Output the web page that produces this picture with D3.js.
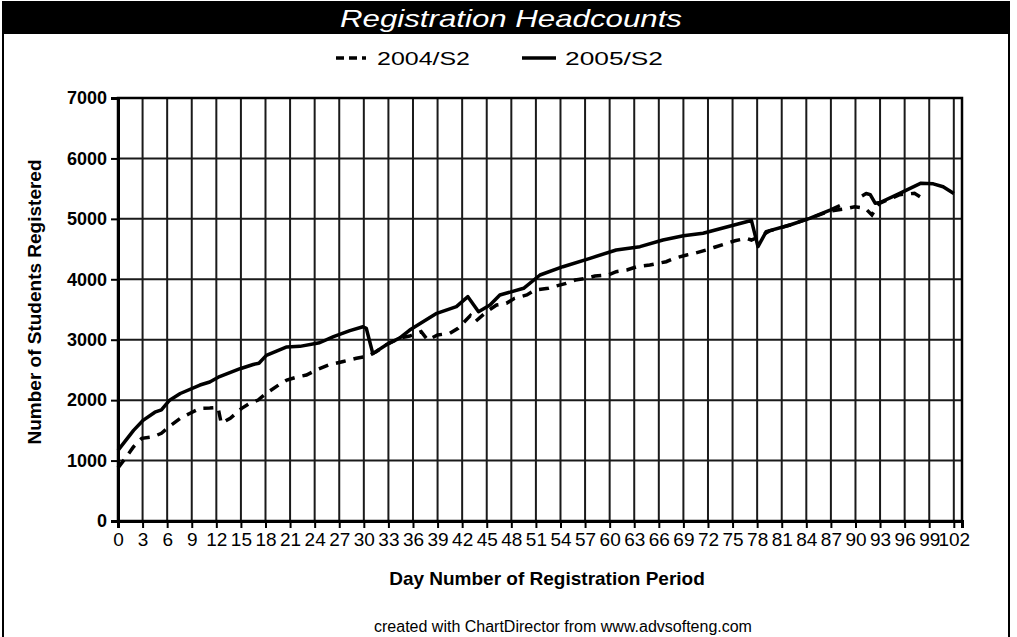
<!DOCTYPE html>
<html>
<head>
<meta charset="utf-8">
<script src="https://cdn.jsdelivr.net/npm/d3@7"></script>
<style>
  html, body { margin: 0; padding: 0; background: #fff; }
  svg { display: block; font-family: "Liberation Sans", Arial, sans-serif; }
</style>
</head>
<body>
<svg id="chart" width="1017" height="637"></svg>
<script>
// ---- data ----
const chartTitle = "Registration Headcounts";
const seriesNames = ["2004/S2", "2005/S2"];
const xTicks = [0,3,6,9,12,15,18,21,24,27,30,33,36,39,42,45,48,51,54,57,60,63,66,69,72,75,78,81,84,87,90,93,96,99,102];
const yTicks = [0,1000,2000,3000,4000,5000,6000,7000];

const days2005 = [0,1.9,3.1,4.5,5.3,6.3,7.6,10,11.2,12.4,14.9,16.5,17.2,18.1,20.6,22.2,24.6,26.3,28.3,29.9,30.3,31.1,32.8,34.4,35.6,38.9,41.3,42.7,44,45.4,46.6,49.5,51.5,54.3,57.6,60.8,63.7,66.5,69,71.4,76.7,77.3,78.1,79.1,82,84.4,86.9,88.1,89,90.8,91.3,91.8,92.4,93,95.4,98,99.5,100.7,102];
const values2005 = [1170,1500,1670,1800,1840,2000,2110,2250,2300,2390,2520,2590,2610,2740,2880,2890,2950,3050,3150,3215,3190,2770,2920,3030,3160,3437,3547,3712,3464,3575,3740,3851,4071,4208,4347,4485,4540,4650,4720,4761,4953,4975,4540,4788,4898,5009,5146,5220,null,5380,5420,5400,5260,5270,5423,5590,5580,5532,5420];

const days2004 = [0,0.9,1.9,2.9,4.3,5.3,6.5,7.6,8.8,10,11.2,12.2,12.6,13.7,15.1,16.1,17.1,18.1,19.6,20.6,22,23,24.2,25.7,27.5,29.1,30.5,31.5,32.8,34.4,35.6,37,37.8,39,40.5,41.5,43,43.6,45,46.2,47.4,48.4,49.9,50.9,52.5,53.5,54.7,55.8,57.2,58.2,59.8,60.8,62.1,63.3,64.9,66.9,67.9,69.4,70.4,71.8,72.8,74.3,75.3,76.7,77.3,78.5,79.5,82,84.4,86.9,88.9,89.9,91.2,92,92.6,93,95.4,97.2,98.3];
const values2004 = [880,1040,1230,1368,1395,1451,1589,1699,1782,1865,1870,1880,1617,1699,1865,1947,2002,2113,2250,2333,2388,2416,2499,2582,2640,2692,2730,2800,2920,3030,3060,3133,2995,3078,3106,3189,3400,3300,3464,3575,3602,3685,3740,3823,3851,3889,3933,3988,4016,4054,4071,4126,4154,4208,4236,4291,4347,4402,4430,4485,4530,4595,4638,4678,4650,4720,4800,4898,5009,5130,5170,5200,5174,5064,5200,5260,5400,5423,5330];

// ---- layout ----
const svg = d3.select("#chart");
const plot = { left: 118, top: 98, right: 962, bottom: 521 };

const x = d3.scaleLinear().domain([0, 103]).range([plot.left, plot.right]);
const y = d3.scaleLinear().domain([0, 7000]).range([plot.bottom, plot.top]);

// outer frame
svg.append("rect").attr("x", 3).attr("y", 2).attr("width", 1006).attr("height", 640)
  .attr("fill", "#fff").attr("stroke", "#000").attr("stroke-width", 2);

// title band
svg.append("rect").attr("x", 3).attr("y", 2).attr("width", 1006).attr("height", 32).attr("fill", "#000");
svg.append("text").attr("x", 511).attr("y", 27).attr("text-anchor", "middle")
  .attr("fill", "#fff").attr("font-size", 24).attr("font-style", "italic")
  .attr("textLength", 342).attr("lengthAdjust", "spacingAndGlyphs")
  .text(chartTitle);

// legend
const legend = svg.append("g");
legend.append("line").attr("x1", 336).attr("x2", 366).attr("y1", 58).attr("y2", 58)
  .attr("stroke", "#000").attr("stroke-width", 3.5).attr("stroke-dasharray", "8,5");
legend.append("text").attr("x", 377).attr("y", 65).attr("font-size", 18)
  .attr("textLength", 93).attr("lengthAdjust", "spacingAndGlyphs").text(seriesNames[0]);
legend.append("line").attr("x1", 522).attr("x2", 556).attr("y1", 58).attr("y2", 58)
  .attr("stroke", "#000").attr("stroke-width", 3.5);
legend.append("text").attr("x", 565).attr("y", 65).attr("font-size", 18)
  .attr("textLength", 98).attr("lengthAdjust", "spacingAndGlyphs").text(seriesNames[1]);

// grid
const grid = svg.append("g").attr("stroke", "#1a1a1a").attr("stroke-width", 2);
grid.selectAll(".vg").data(xTicks.filter(d => d > 0)).join("line")
  .attr("x1", d => x(d)).attr("x2", d => x(d)).attr("y1", plot.top).attr("y2", plot.bottom);
grid.selectAll(".hg").data(yTicks.filter(d => d > 0)).join("line")
  .attr("x1", plot.left).attr("x2", plot.right).attr("y1", d => y(d)).attr("y2", d => y(d));

// plot border
svg.append("rect").attr("x", plot.left).attr("y", plot.top)
  .attr("width", plot.right - plot.left).attr("height", plot.bottom - plot.top)
  .attr("fill", "none").attr("stroke", "#000").attr("stroke-width", 2.5);

// axes
const xAxis = d3.axisBottom(x).tickValues(xTicks).tickSize(7).tickPadding(5).tickFormat(d3.format("d"));
const gx = svg.append("g").attr("transform", `translate(0,${plot.bottom})`).call(xAxis);
gx.select(".domain").attr("stroke-width", 3);
gx.selectAll(".tick line").attr("stroke-width", 2);
gx.selectAll("text").attr("font-size", 19).attr("fill", "#000")
  .attr("font-family", "'Liberation Sans', Arial, sans-serif");

const yAxis = d3.axisLeft(y).tickValues(yTicks).tickSize(7).tickPadding(4).tickFormat(d3.format("d"));
const gy = svg.append("g").attr("transform", `translate(${plot.left},0)`).call(yAxis);
gy.select(".domain").attr("stroke-width", 3);
gy.selectAll(".tick line").attr("stroke-width", 2);
gy.selectAll("text").attr("font-size", 18).attr("font-weight", "bold").attr("fill", "#000")
  .attr("font-family", "'Liberation Sans', Arial, sans-serif");

// axis titles
svg.append("text").attr("transform", "translate(41,302) rotate(-90)")
  .attr("text-anchor", "middle").attr("font-size", 19).attr("font-weight", "bold")
  .text("Number of Students Registered");
svg.append("text").attr("x", 547).attr("y", 585).attr("text-anchor", "middle")
  .attr("font-size", 19).attr("font-weight", "bold")
  .text("Day Number of Registration Period");

// footer
svg.append("text").attr("x", 563).attr("y", 632).attr("text-anchor", "middle")
  .attr("font-size", 16).text("created with ChartDirector from www.advsofteng.com");

// series
const line = d3.line().defined(d => d[1] != null).x(d => x(d[0])).y(d => y(d[1]));
const data2004 = days2004.map((d, i) => [d, values2004[i]]);
const data2005 = days2005.map((d, i) => [d, values2005[i]]);

svg.append("path").datum(data2004).attr("d", line).attr("fill", "none")
  .attr("stroke", "#000").attr("stroke-width", 3.5).attr("stroke-dasharray", "10,8");
svg.append("path").datum(data2005).attr("d", line).attr("fill", "none")
  .attr("stroke", "#000").attr("stroke-width", 3.5).attr("stroke-linejoin", "round");
</script>
</body>
</html>
